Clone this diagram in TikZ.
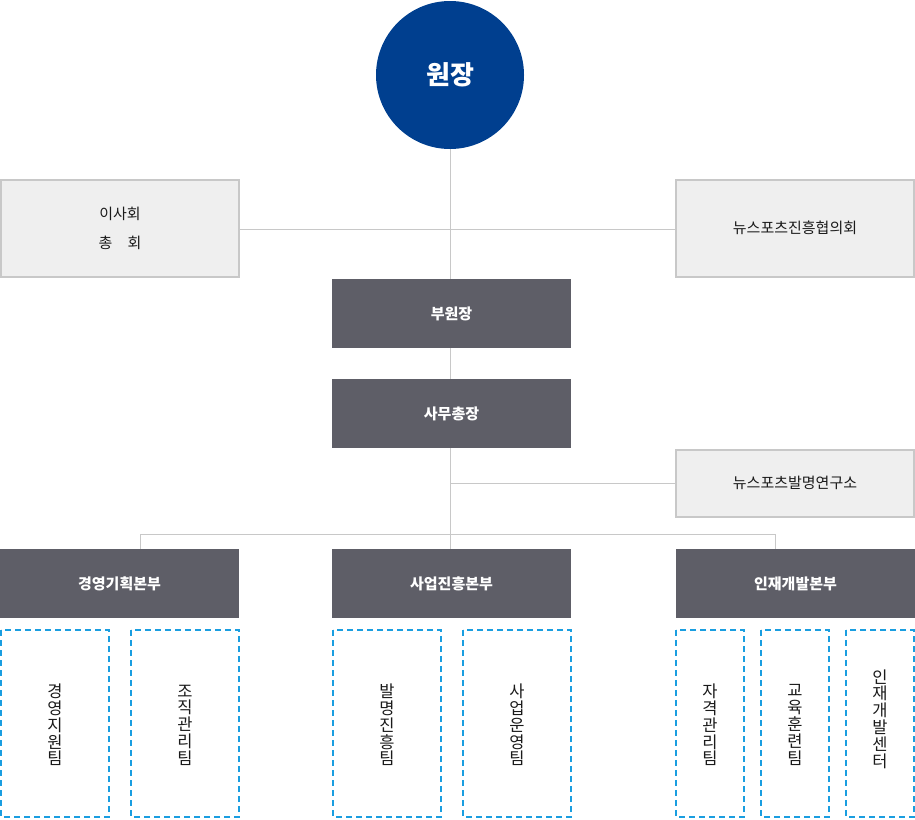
\documentclass[tikz,border=0pt]{standalone}
\usepackage{fontspec}
\setmainfont{Noto Sans CJK KR}
\definecolor{chief}{HTML}{003F8F}
\definecolor{darkbox}{HTML}{5E5E67}
\definecolor{lightbox}{HTML}{EFEFEF}
\definecolor{lightline}{HTML}{C8C8C8}
\definecolor{teamblue}{HTML}{1A9EE0}
\definecolor{txt}{HTML}{1A1A1A}
\begin{document}
\begin{tikzpicture}[x=1pt,y=-1pt,
  conn/.style={draw=lightline,line width=1pt},
  sidebox/.style={draw=lightline,line width=1.5pt,fill=lightbox,text=txt,font=\fontsize{15}{29}\selectfont,align=center},
  sidetext/.style={text=txt,font=\fontsize{15}{29}\selectfont,align=center},
  darkrect/.style={fill=darkbox,text=white,font=\fontsize{15}{18}\selectfont\bfseries},
  teambox/.style={draw=teamblue,line width=2pt,dash pattern=on 6pt off 4pt},
  teamtext/.style={text=txt,font=\fontsize{16.5}{16.8}\selectfont,align=center}
]
\useasboundingbox (0,0) rectangle (915,819);
% chief
\node[circle,fill=chief,minimum size=148pt,inner sep=0pt,text=white,font=\fontsize{26}{30}\selectfont\bfseries] (chief) at (450,75) {원장};
% side boxes
\draw[sidebox] (1,180) rectangle (239,277);
\node[sidetext] (board) at (120,228) {이사회\\총\hspace{1em}회};
\coordinate (boardE) at (239,229);
\draw[sidebox] (676,180) rectangle (914,277);
\node[sidetext] (council) at (795,228) {뉴스포츠진흥협의회};
\coordinate (councilW) at (676,229);
% vice chief, secretary
\fill[darkbox] (332,279) rectangle (571,348);
\node[darkrect] (vice) at (451.5,313.5) {부원장};
\coordinate (viceT) at (450,279);
\coordinate (viceB) at (450,348);
\fill[darkbox] (332,379) rectangle (571,448);
\node[darkrect] (sec) at (451.5,413.5) {사무총장};
\coordinate (secT) at (450,379);
\coordinate (secB) at (450,448);
% institute
\draw[sidebox] (676,450) rectangle (914,517);
\node[sidetext] (inst) at (795,483) {뉴스포츠발명연구소};
\coordinate (instW) at (676,483);
\coordinate (instJ) at (450,483);
% divisions
\fill[darkbox] (0,549) rectangle (239,618);
\node[darkrect] (d1) at (119.5,583.5) {경영기획본부};
\fill[darkbox] (332,549) rectangle (571,618);
\node[darkrect] (d2) at (451.5,583.5) {사업진흥본부};
\fill[darkbox] (676,549) rectangle (915,618);
\node[darkrect] (d3) at (795.5,583.5) {인재개발본부};
\coordinate (d1T) at (140,549);
\coordinate (d2T) at (450,549);
\coordinate (d3T) at (775,549);
% connectors
\draw[conn] (chief.south) -- (viceT);
\draw[conn] (boardE) -- (councilW);
\draw[conn] (viceB) -- (secT);
\draw[conn] (secB) -- (d2T);
\draw[conn] (instJ) -- (instW);
\draw[conn] (d1T) -- (140,534) -- (775,534) -- (d3T);
% teams
\draw[teambox] (1,630) rectangle (109,817);
\node[teamtext] (t1) at (55,725) {경\\영\\지\\원\\팀};
\draw[teambox] (131,630) rectangle (239,817);
\node[teamtext] (t2) at (185,725) {조\\직\\관\\리\\팀};
\draw[teambox] (333,630) rectangle (441,817);
\node[teamtext] (t3) at (387,725) {발\\명\\진\\흥\\팀};
\draw[teambox] (463,630) rectangle (571,817);
\node[teamtext] (t4) at (517,725) {사\\업\\운\\영\\팀};
\draw[teambox] (676,630) rectangle (744,817);
\node[teamtext] (t5) at (710,725) {자\\격\\관\\리\\팀};
\draw[teambox] (761,630) rectangle (829,817);
\node[teamtext] (t6) at (795,725) {교\\육\\훈\\련\\팀};
\draw[teambox] (846,630) rectangle (914,817);
\node[teamtext] (t7) at (880,719) {인\\재\\개\\발\\센\\터};
\end{tikzpicture}
\end{document}
